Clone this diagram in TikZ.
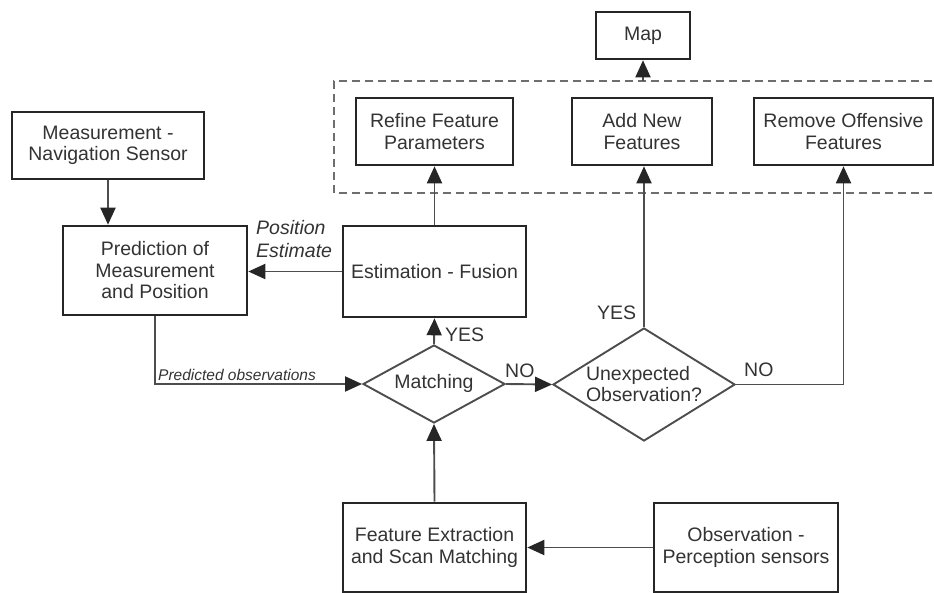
\documentclass[tikz,border=0pt]{standalone}
\usepackage{fontspec}
\setmainfont{Liberation Sans}
\usetikzlibrary{shapes.geometric,arrows.meta}
\definecolor{txt}{HTML}{333333}
\definecolor{bord}{HTML}{262626}
\definecolor{conn}{HTML}{4D4D4D}
\definecolor{dashgray}{HTML}{6E6E6E}
\begin{document}
\begin{tikzpicture}[x=1pt,y=-1pt,
  font=\fontsize{19.5}{21.5}\selectfont,
  box/.style={draw=bord, line width=2.6pt, rectangle, inner sep=0pt, align=center, text=txt},
  dia/.style={draw=conn, line width=1.9pt, diamond, inner sep=0pt},
  conn/.style={draw=conn, line width=1.9pt, -{Triangle[length=17pt,width=15pt,color=bord]}},
  grpbox/.style={draw=dashgray, line width=2pt, dash pattern=on 8pt off 5pt},
  lbl/.style={text=txt, inner sep=0pt},
]
\useasboundingbox (0,0) rectangle (934,592);

% boxes
\node[box, minimum width=94pt, minimum height=47pt] (map) at (643,35.5) {Map};
\node[box, minimum width=157pt, minimum height=67pt] (refine) at (434.5,131.5) {Refine Feature\\Parameters};
\node[box, minimum width=140pt, minimum height=67pt] (addnew) at (642,131.5) {Add New\\Features};
\node[box, minimum width=179pt, minimum height=67pt] (remove) at (843.5,131.5) {Remove Offensive\\Features};
\node[box, minimum width=192pt, minimum height=67pt] (meas) at (108,145.5) {Measurement -\\Navigation Sensor};
\node[box, minimum width=184pt, minimum height=89pt] (pred) at (155,270.5) {Prediction of\\Measurement\\and Position};
\node[box, minimum width=183pt, minimum height=91pt] (est) at (434.5,271.5) {Estimation - Fusion};
\node[box, minimum width=183pt, minimum height=89pt] (feat) at (434.5,547.5) {Feature Extraction\\and Scan Matching};
\node[box, minimum width=184pt, minimum height=89pt] (obs) at (746,547.5) {Observation -\\Perception sensors};

% decisions
\node[dia, minimum width=142pt, minimum height=78pt] (match) at (434,384) {};
\node[lbl] (matchtxt) at (434,383) {Matching};
\node[dia, minimum width=182pt, minimum height=113pt] (unexp) at (644,384.5) {};
\node[lbl, align=left] (unexptxt) at (644,384) {Unexpected\\Observation?};

% dashed group
\draw[grpbox] (945,81) -- (334,81) -- (334,193) -- (945,193);
\coordinate (grptop) at (643,81);

% connectors
\draw[conn] (grptop) -- (map.south);
\draw[conn] (meas.south) -- (meas.south |- pred.north);
\draw[conn] (est.west) -- (pred.east |- est.west);
\draw[conn] (pred.south) |- (match.west);
\draw[conn] (match.north) -- (est.south);
\draw[conn] (match.east) -- (unexp.west);
\draw[conn] (feat.north) -- (match.south);
\draw[conn] (obs.west) -- (feat.east |- obs.west);
\draw[conn] (est.north) -- (refine.south);
\draw[conn] (unexp.north) -- (unexp.north |- addnew.south);
\draw[conn] (unexp.east) -| (remove.south);

% labels
\node[lbl, anchor=west, align=left, font=\fontsize{19.5}{23}\selectfont\itshape] (posest) at (256,239.5) {Position\\Estimate};
\node[lbl, anchor=base west, font=\fontsize{15.5}{17}\selectfont\itshape] (predobs) at (158,380) {Predicted observations};
\node[lbl, anchor=base west] (yes1) at (445,341) {YES};
\node[lbl, anchor=base west] (no1) at (505,377) {NO};
\node[lbl, anchor=base west] (yes2) at (597,319) {YES};
\node[lbl, anchor=base west] (no2) at (744,376) {NO};
\end{tikzpicture}
\end{document}
